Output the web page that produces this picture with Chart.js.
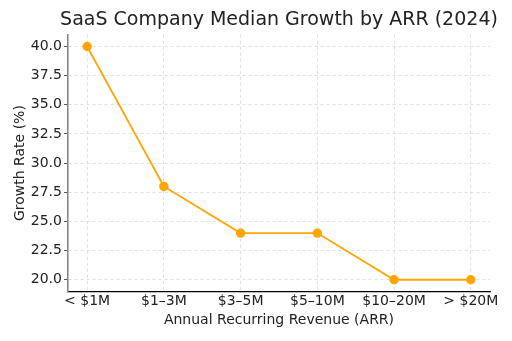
<!DOCTYPE html>
<html><head><meta charset="utf-8">
<script src="https://cdn.jsdelivr.net/npm/chart.js@4/dist/chart.umd.min.js"></script>
<style>html,body{margin:0;padding:0;background:#fff}#w{width:512px;height:341px}</style>
</head><body><div id="w"><canvas id="c" width="512" height="341"></canvas></div>
<script>
const categories = ["< $1M", "$1\u20133M", "$3\u20135M", "$5\u201310M", "$10\u201320M", "> $20M"];
const growthRates = [40, 28, 24, 24, 20, 20];
const yTicks = [20.0, 22.5, 25.0, 27.5, 30.0, 32.5, 35.0, 37.5, 40.0];
const titleText = 'SaaS Company Median Growth by ARR (2024)';

const FONT = "'DejaVu Sans', sans-serif";
const pts = categories.map((c, i) => ({x: i, y: growthRates[i]}));

new Chart(document.getElementById('c'), {
  type: 'line',
  data: { datasets: [{
    data: pts,
    borderColor: '#FFA500', backgroundColor: '#FFA500',
    borderWidth: 1.8, pointRadius: 3.8, pointHoverRadius: 3.8, tension: 0
  }]},
  options: {
    responsive: false, animation: false, devicePixelRatio: 1,
    layout: { padding: { left: 12, right: 22, top: 0, bottom: 12 } },
    plugins: {
      legend: { display: false }, tooltip: { enabled: false },
      title: { display: true, text: titleText,
        color: 'rgba(0,0,0,0)', font: { family: FONT, size: 19, weight: 'normal' },
        padding: { top: 8, bottom: 4 } }
    },
    scales: {
      x: { type: 'linear', min: -0.25, max: 5.25,
        afterBuildTicks: s => { s.ticks = categories.map((c, i) => ({value: i})); },
        ticks: { callback: (v) => categories[v], color: '#222', font: { family: FONT, size: 14 }, maxRotation: 0, autoSkip: false, padding: 2 },
        grid: { color: '#d8d8d8', lineWidth: 0.8, drawTicks: false, tickLength: 0 },
        border: { display: true, color: '#000', width: 1.3, dash: [3, 3] },
        title: { display: true, text: 'Annual Recurring Revenue (ARR)', color: '#222', font: { family: FONT, size: 14 }, padding: { top: 0, bottom: 0 } }
      },
      y: { min: 19, max: 41,
        afterBuildTicks: s => { s.ticks = yTicks.map(v => ({value: v})); },
        ticks: { callback: v => v.toFixed(1), color: '#222', font: { family: FONT, size: 14 }, padding: 2 },
        grid: { color: '#d8d8d8', lineWidth: 0.8, tickColor: '#555', tickLength: 4, tickWidth: 1 },
        border: { display: true, color: '#888', width: 1.6, dash: [3, 3] },
        title: { display: true, text: 'Growth Rate (%)', color: '#222', font: { family: FONT, size: 14 }, padding: { top: 0, bottom: 0 } }
      }
    }
  },
  plugins: [{
    id: 'centeredTitle',
    afterDraw(chart) {
      const ctx = chart.ctx, a = chart.chartArea, tb = chart.titleBlock;
      ctx.save();
      ctx.font = "19px " + FONT;
      ctx.fillStyle = '#222';
      ctx.textAlign = 'center';
      ctx.textBaseline = 'middle';
      ctx.fillText(titleText, (a.left + a.right) / 2, tb.top + 8 + 19 * 0.6 + 1);
      ctx.restore();
    }
  }]
});
</script></body></html>
